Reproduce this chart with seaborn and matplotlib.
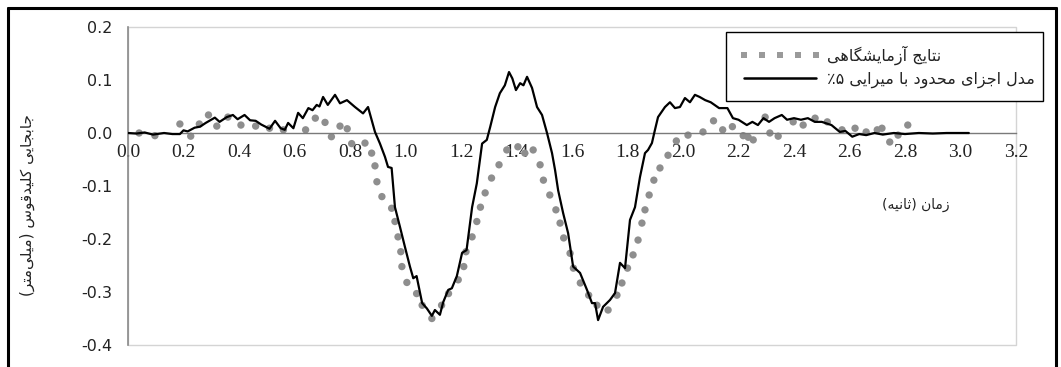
import numpy as np
import pandas as pd
import matplotlib
matplotlib.use("Agg")
import matplotlib.pyplot as plt
import seaborn as sns
from matplotlib.lines import Line2D
from matplotlib.patches import Rectangle

# ---------------- data ----------------
exp_t = [0.040, 0.097, 0.187, 0.226, 0.257, 0.290, 0.320, 0.360, 0.407, 0.460,
         0.510, 0.560, 0.640, 0.675, 0.710, 0.733, 0.764, 0.790, 0.806, 0.854,
         0.878, 0.890, 0.897, 0.915, 0.950, 0.962, 0.973, 0.983, 0.987, 1.005,
         1.040, 1.060, 1.095, 1.130, 1.155, 1.190, 1.210, 1.218, 1.240, 1.257,
         1.270, 1.287, 1.310, 1.337, 1.365, 1.405, 1.430, 1.460, 1.485, 1.497,
         1.520, 1.542, 1.557, 1.570, 1.593, 1.605, 1.630, 1.660, 1.690, 1.730,
         1.762, 1.780, 1.800, 1.820, 1.838, 1.852, 1.863, 1.878, 1.895, 1.917,
         1.946, 1.976, 2.018, 2.072, 2.110, 2.143, 2.178, 2.217, 2.235, 2.253,
         2.296, 2.313, 2.343, 2.397, 2.433, 2.476, 2.520, 2.573, 2.620, 2.660,
         2.700, 2.717, 2.745, 2.775, 2.810]
exp_v = [0.000, -0.005, 0.017, -0.006, 0.017, 0.034, 0.013, 0.030, 0.015, 0.013,
         0.009, 0.006, 0.006, 0.028, 0.020, -0.007, 0.013, 0.008, -0.020, -0.019,
         -0.038, -0.062, -0.092, -0.120, -0.142, -0.167, -0.196, -0.224, -0.252, -0.282,
         -0.303, -0.325, -0.350, -0.325, -0.303, -0.277, -0.252, -0.224, -0.196, -0.167,
         -0.140, -0.113, -0.085, -0.060, -0.032, -0.026, -0.038, -0.032, -0.060, -0.089,
         -0.117, -0.145, -0.170, -0.198, -0.227, -0.255, -0.283, -0.306, -0.325, -0.334,
         -0.306, -0.283, -0.255, -0.230, -0.202, -0.170, -0.145, -0.117, -0.089, -0.066,
         -0.042, -0.015, -0.004, 0.002, 0.023, 0.006, 0.012, -0.005, -0.008, -0.013,
         0.030, 0.000, -0.006, 0.021, 0.015, 0.028, 0.021, 0.006, 0.009, 0.002,
         0.006, 0.009, -0.017, -0.004, 0.015]

fem_t = [0.000, 0.030, 0.060, 0.090, 0.130, 0.160, 0.187, 0.200, 0.215, 0.240,
         0.260, 0.280, 0.300, 0.313, 0.330, 0.356, 0.378, 0.395, 0.420, 0.440,
         0.460, 0.480, 0.510, 0.530, 0.550, 0.565, 0.577, 0.596, 0.613, 0.630,
         0.650, 0.665, 0.680, 0.690, 0.703, 0.720, 0.746, 0.764, 0.789, 0.818,
         0.847, 0.865, 0.875, 0.890, 0.908, 0.926, 0.937, 0.950, 0.962, 0.980,
         0.998, 1.016, 1.028, 1.040, 1.060, 1.077, 1.095, 1.106, 1.124, 1.136,
         1.154, 1.167, 1.185, 1.204, 1.220, 1.240, 1.257, 1.276, 1.293, 1.305,
         1.323, 1.340, 1.358, 1.373, 1.385, 1.398, 1.413, 1.425, 1.438, 1.456,
         1.474, 1.492, 1.510, 1.528, 1.539, 1.550, 1.568, 1.586, 1.604, 1.629,
         1.654, 1.672, 1.683, 1.694, 1.712, 1.737, 1.755, 1.773, 1.791, 1.809,
         1.827, 1.845, 1.863, 1.874, 1.888, 1.899, 1.910, 1.935, 1.953, 1.971,
         1.989, 2.007, 2.025, 2.043, 2.060, 2.080, 2.100, 2.130, 2.160, 2.180,
         2.200, 2.230, 2.250, 2.270, 2.290, 2.310, 2.330, 2.356, 2.375, 2.400,
         2.425, 2.450, 2.475, 2.500, 2.535, 2.565, 2.585, 2.610, 2.635, 2.660,
         2.690, 2.720, 2.760, 2.800, 2.850, 2.900, 2.950, 3.030]
fem_v = [0.000, -0.001, 0.001, -0.003, 0.000, -0.002, -0.002, 0.005, 0.003, 0.010,
         0.012, 0.019, 0.025, 0.029, 0.021, 0.030, 0.034, 0.026, 0.034, 0.024,
         0.023, 0.016, 0.008, 0.023, 0.009, 0.006, 0.019, 0.009, 0.038, 0.028,
         0.047, 0.043, 0.053, 0.050, 0.068, 0.053, 0.072, 0.056, 0.062, 0.049,
         0.037, 0.049, 0.030, 0.002, -0.020, -0.045, -0.064, -0.066, -0.140, -0.177,
         -0.215, -0.252, -0.274, -0.270, -0.321, -0.331, -0.345, -0.334, -0.343, -0.319,
         -0.296, -0.293, -0.270, -0.226, -0.221, -0.140, -0.095, -0.020, -0.013, 0.011,
         0.049, 0.075, 0.090, 0.115, 0.103, 0.081, 0.094, 0.090, 0.106, 0.085,
         0.049, 0.034, 0.000, -0.038, -0.070, -0.108, -0.151, -0.189, -0.252, -0.264,
         -0.296, -0.321, -0.321, -0.353, -0.328, -0.315, -0.302, -0.245, -0.255, -0.164,
         -0.140, -0.083, -0.038, -0.032, -0.019, 0.006, 0.030, 0.049, 0.058, 0.047,
         0.049, 0.066, 0.058, 0.072, 0.068, 0.062, 0.058, 0.047, 0.047, 0.028,
         0.025, 0.015, 0.021, 0.015, 0.028, 0.021, 0.028, 0.034, 0.025, 0.028,
         0.025, 0.028, 0.021, 0.021, 0.015, 0.002, 0.004, -0.007, -0.002, -0.004,
         0.000, -0.003, 0.000, -0.002, 0.000, -0.001, 0.000, 0.000]

x_ticks = [0.0, 0.2, 0.4, 0.6, 0.8, 1.0, 1.2, 1.4, 1.6, 1.8, 2.0, 2.2, 2.4, 2.6, 2.8, 3.0, 3.2]
x_tick_labels = ["0.0", "0.2", "0.4", "0.6", "0.8", "1.0", "1.2", "1.4", "1.6",
                 "1.8", "2.0", "2.2", "2.4", "2.6", "2.8", "3.0", "3.2"]
y_ticks = [0.2, 0.1, 0.0, -0.1, -0.2, -0.3, -0.4]
y_tick_labels = ["0.2", "0.1", "0.0", "-0.1", "-0.2", "-0.3", "-0.4"]

label_exp = "نتایج آزمایشگاهی"
label_fem = "مدل اجزای محدود با میرایی ۵٪"
x_title = "زمان (ثانیه)"
y_title = "جابجایی کلیدقوس (میلی‌متر)"

# ---------------- simple Arabic-script shaping for display ----------------
FORMS = {
    '\u0627': ('\uFE8D', '\uFE8E', None, None),
    '\u0622': ('\uFE81', '\uFE82', None, None),
    '\u062F': ('\uFEA9', '\uFEAA', None, None),
    '\u0630': ('\uFEAB', '\uFEAC', None, None),
    '\u0631': ('\uFEAD', '\uFEAE', None, None),
    '\u0632': ('\uFEAF', '\uFEB0', None, None),
    '\u0698': ('\uFB8A', '\uFB8B', None, None),
    '\u0648': ('\uFEED', '\uFEEE', None, None),
    '\u0629': ('\uFE93', '\uFE94', None, None),
    '\u0628': ('\uFE8F', '\uFE90', '\uFE91', '\uFE92'),
    '\u062A': ('\uFE95', '\uFE96', '\uFE97', '\uFE98'),
    '\u062B': ('\uFE99', '\uFE9A', '\uFE9B', '\uFE9C'),
    '\u062C': ('\uFE9D', '\uFE9E', '\uFE9F', '\uFEA0'),
    '\u062D': ('\uFEA1', '\uFEA2', '\uFEA3', '\uFEA4'),
    '\u062E': ('\uFEA5', '\uFEA6', '\uFEA7', '\uFEA8'),
    '\u0633': ('\uFEB1', '\uFEB2', '\uFEB3', '\uFEB4'),
    '\u0634': ('\uFEB5', '\uFEB6', '\uFEB7', '\uFEB8'),
    '\u0635': ('\uFEB9', '\uFEBA', '\uFEBB', '\uFEBC'),
    '\u0636': ('\uFEBD', '\uFEBE', '\uFEBF', '\uFEC0'),
    '\u0637': ('\uFEC1', '\uFEC2', '\uFEC3', '\uFEC4'),
    '\u0638': ('\uFEC5', '\uFEC6', '\uFEC7', '\uFEC8'),
    '\u0639': ('\uFEC9', '\uFECA', '\uFECB', '\uFECC'),
    '\u063A': ('\uFECD', '\uFECE', '\uFECF', '\uFED0'),
    '\u0641': ('\uFED1', '\uFED2', '\uFED3', '\uFED4'),
    '\u0642': ('\uFED5', '\uFED6', '\uFED7', '\uFED8'),
    '\u0643': ('\uFED9', '\uFEDA', '\uFEDB', '\uFEDC'),
    '\u0644': ('\uFEDD', '\uFEDE', '\uFEDF', '\uFEE0'),
    '\u0645': ('\uFEE1', '\uFEE2', '\uFEE3', '\uFEE4'),
    '\u0646': ('\uFEE5', '\uFEE6', '\uFEE7', '\uFEE8'),
    '\u0647': ('\uFEE9', '\uFEEA', '\uFEEB', '\uFEEC'),
    '\u064A': ('\uFEF1', '\uFEF2', '\uFEF3', '\uFEF4'),
    '\u06CC': ('\uFBFC', '\uFBFD', '\uFBFE', '\uFBFF'),
    '\u06A9': ('\uFB8E', '\uFB8F', '\uFB90', '\uFB91'),
    '\u06AF': ('\uFB92', '\uFB93', '\uFB94', '\uFB95'),
    '\u067E': ('\uFB56', '\uFB57', '\uFB58', '\uFB59'),
    '\u0686': ('\uFB7A', '\uFB7B', '\uFB7C', '\uFB7D'),
}


def rtl(text):
    chars = list(text)

    def dual(c):
        return c in FORMS and FORMS[c][2] is not None

    out = []
    for i, c in enumerate(chars):
        if c not in FORMS:
            out.append(c)
            continue
        prev = chars[i - 1] if i > 0 else None
        nxt = chars[i + 1] if i + 1 < len(chars) else None
        p = prev is not None and dual(prev)
        n = nxt is not None and nxt in FORMS and dual(c)
        iso, fin, ini, med = FORMS[c]
        if p and n:
            out.append(med)
        elif p:
            out.append(fin)
        elif n:
            out.append(ini)
        else:
            out.append(iso)
    s = ''.join(out).replace('\u200c', '')
    s = s[::-1]
    return s.translate(str.maketrans('()', ')('))


# ---------------- figure ----------------
sns.set_style("white")
plt.rcParams['font.family'] = ['DejaVu Sans']

W, H = 1061, 367
fig = plt.figure(figsize=(W / 100, H / 100), dpi=100)
ax = fig.add_axes([128 / W, 1 - 345 / H, (1016 - 128) / W, (345 - 27) / H])

exp_df = pd.DataFrame({"t": exp_t, "v": exp_v})
fem_df = pd.DataFrame({"t": fem_t, "v": fem_v})

gray = "#8e8e8e"
sns.scatterplot(data=exp_df, x="t", y="v", ax=ax, color=gray, s=28,
                marker="o", edgecolor="none", linewidth=0, zorder=2, legend=False)
sns.lineplot(data=fem_df, x="t", y="v", ax=ax, color="black", linewidth=1.6,
             estimator=None, sort=True, zorder=3, legend=False)

ax.set_xlim(0, 3.2)
ax.set_ylim(-0.4, 0.2)
ax.set_xlabel("")
ax.set_ylabel("")

# spines
for s in ["top", "right"]:
    ax.spines[s].set_visible(False)
ax.spines["bottom"].set_position(("data", 0))
ax.spines["bottom"].set_color("#7a7a7a")
ax.spines["bottom"].set_linewidth(1.0)
ax.spines["left"].set_color("#8a8a8a")
ax.spines["left"].set_linewidth(1.2)
ax.add_patch(Rectangle((0, 0), 1, 1, transform=ax.transAxes, fill=False,
                       edgecolor="#d4d4d4", linewidth=1.0, clip_on=False, zorder=0))

ax.set_xticks(x_ticks, x_tick_labels, fontfamily="Liberation Serif", fontsize=14)
ax.set_yticks(y_ticks, y_tick_labels, fontfamily="DejaVu Sans", fontsize=11.5)
ax.tick_params(axis="x", direction="out", length=5, width=1, color="#7a7a7a",
               pad=3, labelcolor="#222222")
ax.tick_params(axis="y", direction="out", length=5, width=1, color="#7a7a7a",
               pad=6, labelcolor="#222222")
ax.set_facecolor("white")

# axis titles
fig.text(916 / W, 1 - 205 / H, rtl(x_title), ha="center", va="center",
         fontsize=10, color="#222222")
fig.text(27 / W, 1 - 205 / H, rtl(y_title), ha="center", va="center",
         rotation=90, fontsize=11, color="#222222")

# legend
h_exp = Line2D([], [], marker="s", linestyle="none", color="#9a9a9a",
               markersize=4.5, markeredgewidth=0)
h_fem = Line2D([], [], color="black", linewidth=1.8)
leg = fig.legend([h_exp, h_fem], [rtl(label_exp), rtl(label_fem)],
                 loc="upper left",
                 bbox_to_anchor=(726 / W, 1 - 102 / H, (1043 - 726) / W, 70 / H),
                 bbox_transform=fig.transFigure, mode="expand",
                 numpoints=5, fontsize=11.5, frameon=True, fancybox=False,
                 borderpad=0.85, labelspacing=0.4, handlelength=5.1,
                 handletextpad=0.4, borderaxespad=0)
leg.get_frame().set_edgecolor("black")
leg.get_frame().set_linewidth(1.0)
leg.get_frame().set_facecolor("white")
leg.get_frame().set_alpha(1)
for t in leg.get_texts():
    t.set_color("#222222")

# outer black frame
for xs, ys in [([8 / W, 8 / W], [0, 1 - 8 / H]),
               ([8 / W, 1056 / W], [1 - 8 / H, 1 - 8 / H]),
               ([1056 / W, 1056 / W], [0, 1 - 8 / H])]:
    fig.add_artist(Line2D(xs, ys, transform=fig.transFigure, color="black",
                          linewidth=2.2))

fig.savefig("out.png", dpi=100, facecolor="white")
